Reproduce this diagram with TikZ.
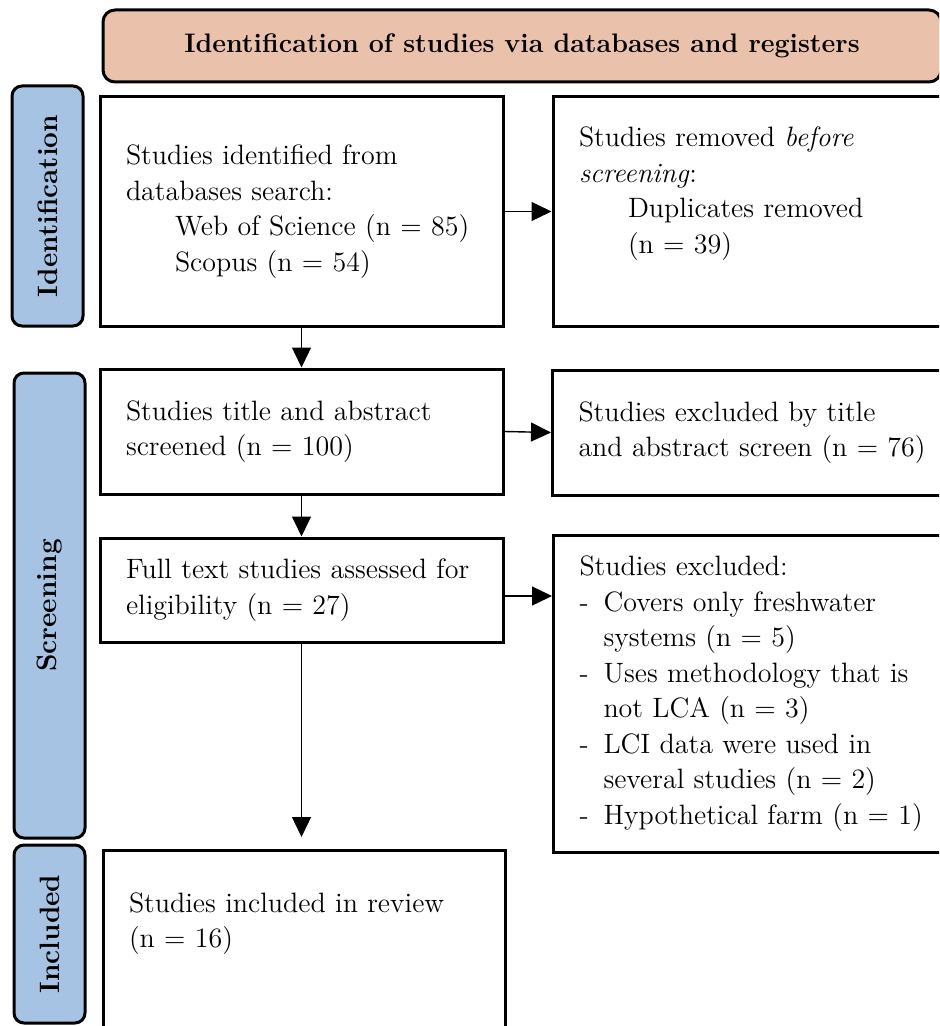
\documentclass[tikz,border=0pt]{standalone}
\usepackage{fontspec}
\usetikzlibrary{arrows.meta,calc}
\definecolor{headfill}{HTML}{EAC2AB}
\definecolor{phasefill}{HTML}{A7C3E3}

\begin{document}
\begin{tikzpicture}[x=0.5pt,y=-0.5pt, every node/.style={font=\fontsize{14}{17.75}\selectfont},
    phase/.style={draw, line width=1.5pt, rounded corners=5pt, fill=phasefill, rotate=90, minimum height=35.5pt, inner sep=0pt, font=\fontsize{14}{17}\selectfont\bfseries},
    box/.style={draw, line width=1.5pt, fill=white, align=left, inner xsep=13pt, inner ysep=0pt},
    flow/.style={line width=0.7pt, -{Triangle[length=10pt,width=9.5pt]}}]
    \path[use as bounding box, clip] (0,0) rectangle (939,1026);

    % header and phase labels
    \node[draw, line width=1.5pt, rounded corners=6pt, fill=headfill, minimum width=419pt, minimum height=36pt, font=\fontsize{13.4}{16}\selectfont\bfseries] (head) at (522,46) {Identification of studies via databases and registers};
    \node[phase, minimum width=120pt] (idlab) at (47.5,206) {Identification};
    \node[phase, minimum width=232.5pt] (scrlab) at (49.5,605.5) {Screening};
    \node[phase, minimum width=89pt] (inclab) at (49.5,934) {Included};

    % main column
    \node[box, text width=175.5pt, minimum height=114.5pt] (ident) at (301.5,211.5) {Studies identified from\\databases search:\\\hspace*{24.5pt}Web of Science (n = 85)\\\hspace*{24.5pt}Scopus (n = 54)};
    \node[box, text width=175.5pt, minimum height=62.5pt] (screened) at (301.5,431.5) {Studies title and abstract\\screened (n = 100)};
    \node[box, text width=175.5pt, minimum height=52pt] (fulltext) at (301.5,590) {Full text studies assessed for\\eligibility (n = 27)};
    \node[box, text width=175pt, minimum height=95.5pt, anchor=north] (included) at (304,849) {Studies included in review\\(n = 16)\rule[-26pt]{0pt}{1pt}};

    % excluded column
    \node[box, text width=177.5pt, minimum height=114.5pt] (removed) at (756.5,211.5) {Studies removed \emph{before}\\\emph{screening}:\\\hspace*{24.5pt}Duplicates removed\\\hspace*{24.5pt}(n = 39)\rule[-21.5pt]{0pt}{1pt}};
    \node[box, text width=177.5pt, minimum height=62.5pt] (excltitle) at (756,432.5) {Studies excluded by title\\and abstract screen (n = 76)};
    \node[box, text width=177.5pt, minimum height=158.5pt] (excllist) at (757,693.5) {Studies excluded:\\
        \makebox[12pt][l]{-}Covers only freshwater\\\hspace*{12pt}systems (n = 5)\\
        \makebox[12pt][l]{-}Uses methodology that is\\\hspace*{12pt}not LCA (n = 3)\\
        \makebox[12pt][l]{-}LCI data were used in\\\hspace*{12pt}several studies (n = 2)\\
        \makebox[12pt][l]{-}Hypothetical farm (n = 1)};

    % arrows
    \coordinate (fullout) at ($(fulltext.east)+(0,6)$);
    \draw[flow] (ident) -- (screened);
    \draw[flow] (screened) -- (fulltext);
    \draw[flow, shorten >=6pt] (fulltext) -- (fulltext |- included.north);
    \draw[flow] (ident.east) -- (removed.west);
    \draw[flow] (screened.east) -- (excltitle.west);
    \draw[flow] (fullout) -- (fullout -| excllist.west);
\end{tikzpicture}
\end{document}
